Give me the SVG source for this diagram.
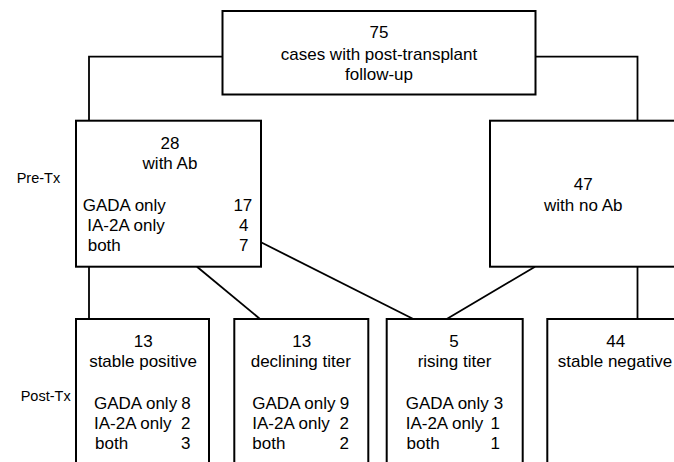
<svg xmlns="http://www.w3.org/2000/svg" width="674" height="462" viewBox="0 0 674 462">
<style>
  .box { fill: #ffffff; stroke: #000000; stroke-width: 2; }
  .conn { fill: none; stroke: #000000; stroke-width: 1.8; }
  text { font-family: "Liberation Sans", Arial, sans-serif; font-size: 17px; fill: #000000; }
  .c { text-anchor: middle; }
  .e { text-anchor: end; }
  .lbl { font-size: 14.5px; }
</style>
<rect width="674" height="462" fill="#ffffff"/>
<g id="connectors">
  <polyline class="conn" points="222.5,56.7 89,56.7 89,120.7"/>
  <polyline class="conn" points="535.5,56.7 637.5,56.7 637.5,120.7"/>
  <line class="conn" x1="89" y1="266.7" x2="89" y2="319"/>
  <line class="conn" x1="197" y1="266.7" x2="260" y2="319"/>
  <line class="conn" x1="261" y1="242.3" x2="413.3" y2="319"/>
  <line class="conn" x1="535" y1="266.7" x2="446.7" y2="319"/>
  <line class="conn" x1="637.5" y1="266.7" x2="637.5" y2="319"/>
</g>
<g id="labels">
  <text class="lbl" x="16.7" y="183.3">Pre-Tx</text>
  <text class="lbl" x="20.7" y="400.7">Post-Tx</text>
</g>
<g id="node-total">
  <rect class="box" x="222.5" y="11" width="313" height="83.5"/>
  <text class="c" x="379" y="38.3">75</text>
  <text class="c" x="379" y="60">cases with post-transplant</text>
  <text class="c" x="379" y="79.5">follow-up</text>
</g>
<g id="node-with-ab">
  <rect class="box" x="76" y="120.7" width="185" height="146"/>
  <text class="c" x="170" y="149.3">28</text>
  <text class="c" x="170" y="169.3">with Ab</text>
  <text x="82.7" y="210.7">GADA only</text>
  <text class="e" x="252.3" y="210.7">17</text>
  <text x="87.3" y="230.7">IA-2A only</text>
  <text class="e" x="248.5" y="230.7">4</text>
  <text x="87.7" y="250.7">both</text>
  <text class="e" x="248.5" y="250.7">7</text>
</g>
<g id="node-no-ab">
  <rect class="box" x="490" y="120.7" width="200" height="146"/>
  <text class="c" x="583.3" y="190">47</text>
  <text class="c" x="583.3" y="211">with no Ab</text>
</g>
<g id="node-stable-positive">
  <rect class="box" x="76" y="319" width="133" height="160"/>
  <text class="c" x="143.3" y="347.3">13</text>
  <text class="c" x="143" y="367.3">stable positive</text>
  <text x="94" y="409">GADA only</text>
  <text class="e" x="190.7" y="409">8</text>
  <text x="94" y="429.3">IA-2A only</text>
  <text class="e" x="190.5" y="429.3">2</text>
  <text x="95" y="449.3">both</text>
  <text class="e" x="190.5" y="449.3">3</text>
</g>
<g id="node-declining">
  <rect class="box" x="234.3" y="319" width="134" height="160"/>
  <text class="c" x="301.7" y="347.3">13</text>
  <text class="c" x="300.8" y="367.3">declining titer</text>
  <text x="252.3" y="409">GADA only</text>
  <text class="e" x="349.3" y="409">9</text>
  <text x="252.3" y="429.3">IA-2A only</text>
  <text class="e" x="349" y="429.3">2</text>
  <text x="252.3" y="449.3">both</text>
  <text class="e" x="349" y="449.3">2</text>
</g>
<g id="node-rising">
  <rect class="box" x="386.7" y="319" width="136" height="160"/>
  <text class="c" x="454" y="347.3">5</text>
  <text class="c" x="454.5" y="367.3">rising titer</text>
  <text x="405.7" y="409">GADA only</text>
  <text class="e" x="503.3" y="409">3</text>
  <text x="405.7" y="429.3">IA-2A only</text>
  <text class="e" x="500" y="429.3">1</text>
  <text x="406.5" y="449.3">both</text>
  <text class="e" x="500" y="449.3">1</text>
</g>
<g id="node-stable-negative">
  <rect class="box" x="547.3" y="319" width="150" height="160"/>
  <text class="c" x="615.7" y="347.3">44</text>
  <text class="c" x="615" y="367.3">stable negative</text>
</g>
</svg>
